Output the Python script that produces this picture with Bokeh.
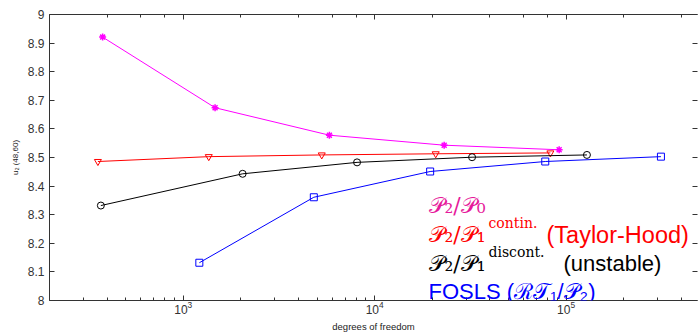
from bokeh.plotting import figure
from bokeh.models import LogAxis, LinearAxis, FixedTicker, LogTicker, Label, CustomJSTickFormatter
from bokeh.embed import file_html
from bokeh.resources import INLINE

# ---- data ----
p2p0_dof = [379, 1466, 5800, 23070, 92000]
p2p0_u = [8.921, 8.674, 8.578, 8.543, 8.527]
taylor_hood_dof = [358, 1359, 5290, 20840, 82800]
taylor_hood_u = [8.486, 8.503, 8.509, 8.513, 8.516]
p2p1d_dof = [371, 2042, 8090, 32270, 128500]
p2p1d_u = [8.332, 8.443, 8.483, 8.501, 8.509]
fosls_dof = [1213, 4809, 19490, 77840, 313000]
fosls_u = [8.132, 8.361, 8.451, 8.486, 8.503]

y_ticks = [8.0, 8.1, 8.2, 8.3, 8.4, 8.5, 8.6, 8.7, 8.8, 8.9, 9.0]
x_label = "degrees of freedom"
y_label = "u\u2082 (48,60)"

p = figure(width=698, height=334, x_axis_type="log", x_range=(200, 486000), y_range=(8, 9),
           output_backend="svg", toolbar_location=None,
           min_border_left=49, min_border_right=1, min_border_top=14, min_border_bottom=34,
           x_axis_label=x_label, y_axis_label=y_label)
p.outline_line_color = None
p.grid.visible = False

tick_font = "Liberation Sans"
ax_col = "#333333"

xa = p.xaxis[0]
xa.major_tick_in = 5
xa.major_tick_out = 0
xa.minor_tick_in = 3
xa.minor_tick_out = 0
xa.axis_line_color = ax_col
xa.major_tick_line_color = ax_col
xa.minor_tick_line_color = ax_col
xa.major_label_text_font = tick_font
xa.major_label_text_font_size = "12px"
xa.major_label_text_color = ax_col
xa.major_label_standoff = 0
xa.axis_label_text_font = tick_font
xa.axis_label_text_font_size = "9.5px"
xa.axis_label_text_font_style = "normal"
xa.axis_label_text_color = "#222222"
xa.axis_label_standoff = 4

ya = p.yaxis[0]
ya.ticker = FixedTicker(ticks=y_ticks)
ya.major_label_overrides = {8: "8", 9: "9"}
ya.major_tick_in = 5
ya.major_tick_out = 0
ya.minor_tick_line_color = None
ya.axis_line_color = ax_col
ya.major_tick_line_color = ax_col
ya.major_label_text_font = tick_font
ya.major_label_text_font_size = "12px"
ya.major_label_text_color = ax_col
ya.major_label_standoff = 5
ya.axis_label_text_font = tick_font
ya.axis_label_text_font_size = "8px"
ya.axis_label_text_font_style = "normal"
ya.axis_label_text_color = "#222222"
ya.axis_label_standoff = 5

blank = CustomJSTickFormatter(code="return ''")
top = LogAxis(ticker=LogTicker(), formatter=blank, major_tick_in=5, major_tick_out=0,
              minor_tick_in=3, minor_tick_out=0,
              axis_line_color=ax_col, major_tick_line_color=ax_col, minor_tick_line_color=ax_col,
              major_label_text_font_size="1px", major_label_standoff=0)
p.add_layout(top, "above")
right = LinearAxis(ticker=FixedTicker(ticks=y_ticks), formatter=blank, major_tick_in=5, major_tick_out=0,
                   axis_line_color=None, major_tick_line_color=ax_col, minor_tick_line_color=None,
                   major_label_text_font_size="1px", major_label_standoff=0)
p.add_layout(right, "right")

series = [
    (p2p0_dof, p2p0_u, "#FF00FF", "asterisk", 7),
    (taylor_hood_dof, taylor_hood_u, "#FF0000", "inverted_triangle", 7),
    (p2p1d_dof, p2p1d_u, "#000000", "circle", 7),
    (fosls_dof, fosls_u, "#0000FF", "square", 7),
]
for xs, ys, col, mk, sz in series:
    p.line(xs, ys, line_color=col, line_width=1)
    p.scatter(xs, ys, marker=mk, size=sz, line_color=col, fill_color=None,
              line_width=1.5 if mk == "asterisk" else 1)

big = "22px"
sup = "14px"
sans = "Liberation Sans"
serif = "DejaVu Serif"
labels = [
    (379, 95, "\U0001D4AB\u2082/\U0001D4AB\u2080", serif, big, "#E6199B"),
    (379, 66, "\U0001D4AB\u2082/\U0001D4AB\u2081", serif, big, "#FF0000"),
    (439, 78, "contin.", serif, sup, "#FF0000"),
    (497, 66, "(Taylor-Hood)", sans, "23.5px", "#FF0000"),
    (379, 37, "\U0001D4AB\u2082/\U0001D4AB\u2081", serif, big, "#000000"),
    (439, 49, "discont.", serif, sup, "#000000"),
    (514, 37, "(unstable)", sans, big, "#000000"),
    (379, 9, "FOSLS (\u211B\U0001D4AF\u2081/\U0001D4AB\u2082)", sans, big, "#0000FF"),
]
for x, y, t, f, s, c in labels:
    p.add_layout(Label(x=x, y=y, x_units="screen", y_units="screen", text=t, text_font=f,
                       text_font_size=s, text_color=c, text_baseline="alphabetic"))

open("out.html", "w").write(file_html(p, INLINE))
